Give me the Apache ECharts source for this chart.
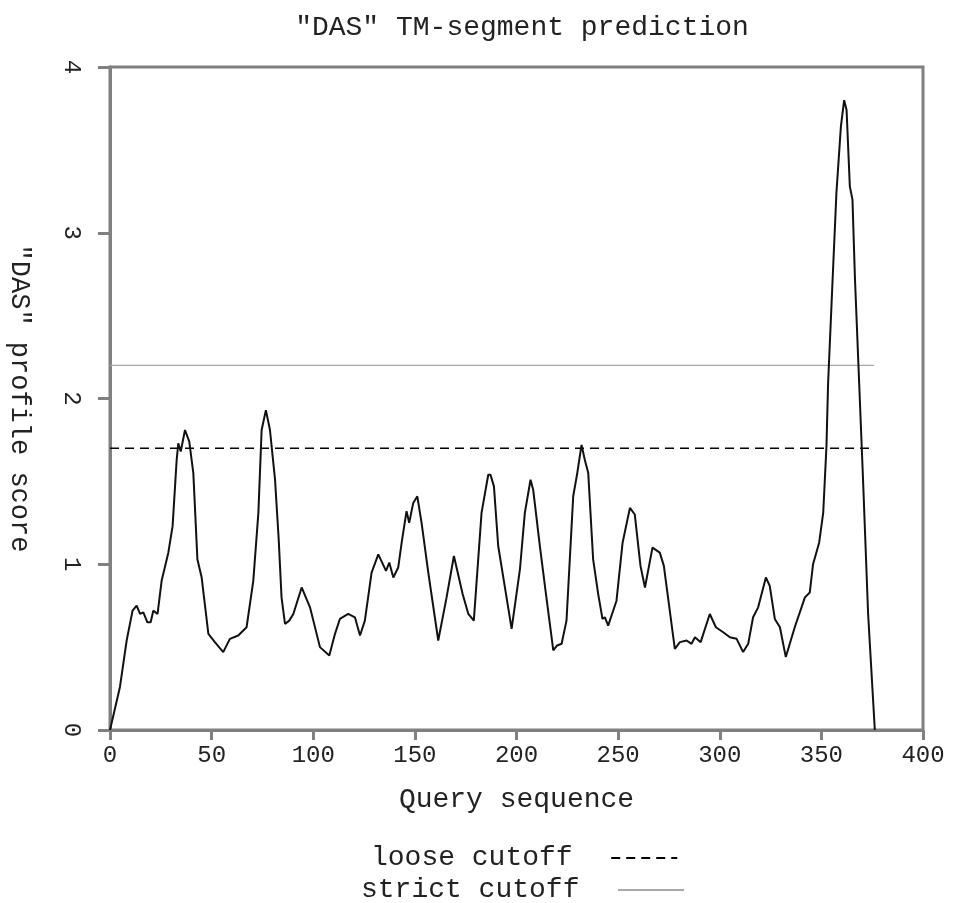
<!DOCTYPE html>
<html>
<head>
<meta charset="utf-8">
<script src="https://cdn.jsdelivr.net/npm/echarts@6/dist/echarts.min.js"></script>
<style>html,body{margin:0;padding:0;background:#fff;}#c{width:953px;height:903px;}</style>
</head>
<body>
<div id="c"></div>
<script>
// ---- data ----
var titleText = '"DAS" TM-segment prediction';
var xName = 'Query sequence';
var yName = '"DAS" profile score';
var xTicks = [0, 50, 100, 150, 200, 250, 300, 350, 400];
var yTicks = [0, 1, 2, 3, 4];
var looseCutoff = 1.7;
var strictCutoff = 2.2;
var seqLength = 376;

var positions = [
  0, 4.9, 8.2, 11.1, 13.1, 14.8, 16.4, 18.4, 20, 21.3, 23.4, 25.4, 28.7, 30.8, 32.8, 33.6, 34.8, 36.9, 39, 41,
  43, 45.1, 48.4, 51.6, 55.7, 59, 63.1, 67.2, 70.5, 73, 74.6, 76.7, 78.7, 81.2, 83, 84.4, 86.1, 88.2, 90.2, 94.3,
  98.4, 103.3, 107.9, 110.7, 113.1, 117.2, 120.5, 123, 125.4, 128.7, 132, 135.8, 137.4, 139.4, 141.8, 143.5, 145.9, 147.2, 149.2, 151.2,
  153.3, 156.6, 161.5, 165.6, 169.2, 173.5, 176.3, 179, 182.8, 186.1, 187.2, 188.9, 191, 194.3, 197.6, 201.7, 204.1, 206.9, 208.2, 211.5,
  214.5, 218.1, 220, 222.2, 224.6, 227.9, 229.9, 232, 233.6, 235.3, 237.7, 240.2, 242.3, 243.5, 245.1, 249.2, 252.2, 255.8, 258.2, 261,
  263.2, 266.9, 270.5, 272.5, 277.9, 280.4, 283.7, 286.1, 287.8, 290.6, 295.1, 298.1, 301.7, 305, 308.3, 311.5, 314, 316.4, 318.9, 322.7,
  324.6, 327.1, 329.6, 332.5, 336.9, 341.9, 344.3, 345.9, 348.9, 350.9, 351.7, 352.5, 353.3, 355, 357.4, 359.6, 361.2, 362.4, 364, 365.3,
  366.5, 368.6, 370.5, 373, 376.3
];
var scores = [
  0, 0.26, 0.54, 0.72, 0.75, 0.70, 0.71, 0.65, 0.65, 0.72, 0.70, 0.90, 1.07, 1.23, 1.63, 1.73, 1.68, 1.81, 1.74, 1.55,
  1.03, 0.92, 0.58, 0.53, 0.47, 0.55, 0.57, 0.62, 0.90, 1.31, 1.81, 1.93, 1.81, 1.51, 1.15, 0.80, 0.64, 0.66, 0.70, 0.86,
  0.74, 0.50, 0.45, 0.58, 0.67, 0.70, 0.68, 0.57, 0.66, 0.95, 1.06, 0.96, 1.01, 0.92, 0.98, 1.13, 1.32, 1.25, 1.37, 1.41,
  1.25, 0.95, 0.54, 0.80, 1.05, 0.82, 0.70, 0.66, 1.31, 1.54, 1.54, 1.47, 1.11, 0.86, 0.61, 0.97, 1.31, 1.51, 1.45, 1.11,
  0.82, 0.48, 0.51, 0.52, 0.66, 1.41, 1.55, 1.72, 1.63, 1.55, 1.03, 0.82, 0.67, 0.68, 0.63, 0.78, 1.13, 1.34, 1.30, 0.99,
  0.86, 1.10, 1.07, 0.99, 0.49, 0.53, 0.54, 0.52, 0.56, 0.53, 0.70, 0.62, 0.59, 0.56, 0.55, 0.47, 0.52, 0.68, 0.74, 0.92,
  0.87, 0.67, 0.62, 0.44, 0.62, 0.80, 0.83, 1.00, 1.13, 1.31, 1.51, 1.71, 2.09, 2.57, 3.24, 3.64, 3.80, 3.74, 3.28, 3.20,
  2.73, 2.09, 1.51, 0.70, 0
];

// ---- build chart ----
var FONT = 'Liberation Mono';
var AX = '#808080';
var TXT = '#222';
var profile = positions.map(function (p, i) { return [p, scores[i]]; });

var legendCommon = {
  align: 'right', orient: 'horizontal',
  itemWidth: 66, itemHeight: 14,
  itemStyle: { opacity: 0, borderWidth: 0 },
  formatter: function (n) { return n + '  '; },
  textStyle: { fontFamily: FONT, fontSize: 28, color: TXT }
};

var chart = echarts.init(document.getElementById('c'), null, { renderer: 'canvas' });
chart.setOption({
  animation: false,
  backgroundColor: '#fff',
  title: {
    text: titleText,
    left: 517,
    top: 9,
    textAlign: 'center',
    textStyle: { fontFamily: FONT, fontSize: 28, fontWeight: 'normal', color: TXT }
  },
  grid: {
    left: 110, right: 30, top: 67, bottom: 173,
    outerBoundsMode: 'none', containLabel: false,
    show: true, borderColor: AX, borderWidth: 3, backgroundColor: 'transparent'
  },
  legend: [
    Object.assign({ data: ['loose cutoff'], top: 839, left: 366 }, legendCommon),
    Object.assign({ data: ['strict cutoff'], top: 871, left: 356 }, legendCommon)
  ],
  xAxis: {
    type: 'value', min: 0, max: 400, interval: 50,
    name: xName, nameLocation: 'middle', nameGap: 56,
    nameTextStyle: { fontFamily: FONT, fontSize: 28, color: TXT },
    axisLine: { show: true, onZero: false, lineStyle: { color: AX, width: 3 } },
    axisTick: { show: true, inside: false, length: 10, lineStyle: { color: AX, width: 3 } },
    axisLabel: { margin: 14, fontFamily: FONT, fontSize: 24, color: TXT },
    splitLine: { show: false }
  },
  yAxis: {
    type: 'value', min: 0, max: 4, interval: 1,
    name: yName, nameLocation: 'middle', nameGap: 77, nameRotate: -90,
    nameTextStyle: { fontFamily: FONT, fontSize: 27, color: TXT },
    axisLine: { show: true, onZero: false, lineStyle: { color: AX, width: 3 } },
    axisTick: { show: true, inside: false, length: 12, lineStyle: { color: AX, width: 3 } },
    axisLabel: { margin: 27, rotate: -90, fontFamily: FONT, fontSize: 24, color: TXT },
    splitLine: { show: false }
  },
  series: [
    {
      name: 'profile', type: 'line', data: profile, symbol: 'none', smooth: false,
      lineStyle: { color: '#111', width: 2 }, z: 3
    },
    {
      name: 'loose cutoff', type: 'line', data: [[0, looseCutoff], [seqLength, looseCutoff]],
      symbol: 'none', lineStyle: { color: '#000', width: 1.6, type: [9, 6] }, itemStyle: { color: '#000' }, z: 2
    },
    {
      name: 'strict cutoff', type: 'line', data: [[0, strictCutoff], [seqLength, strictCutoff]],
      symbol: 'none', lineStyle: { color: '#a8a8a8', width: 1.2 }, itemStyle: { color: '#a8a8a8' }, z: 2
    }
  ]
});
</script>
</body>
</html>
